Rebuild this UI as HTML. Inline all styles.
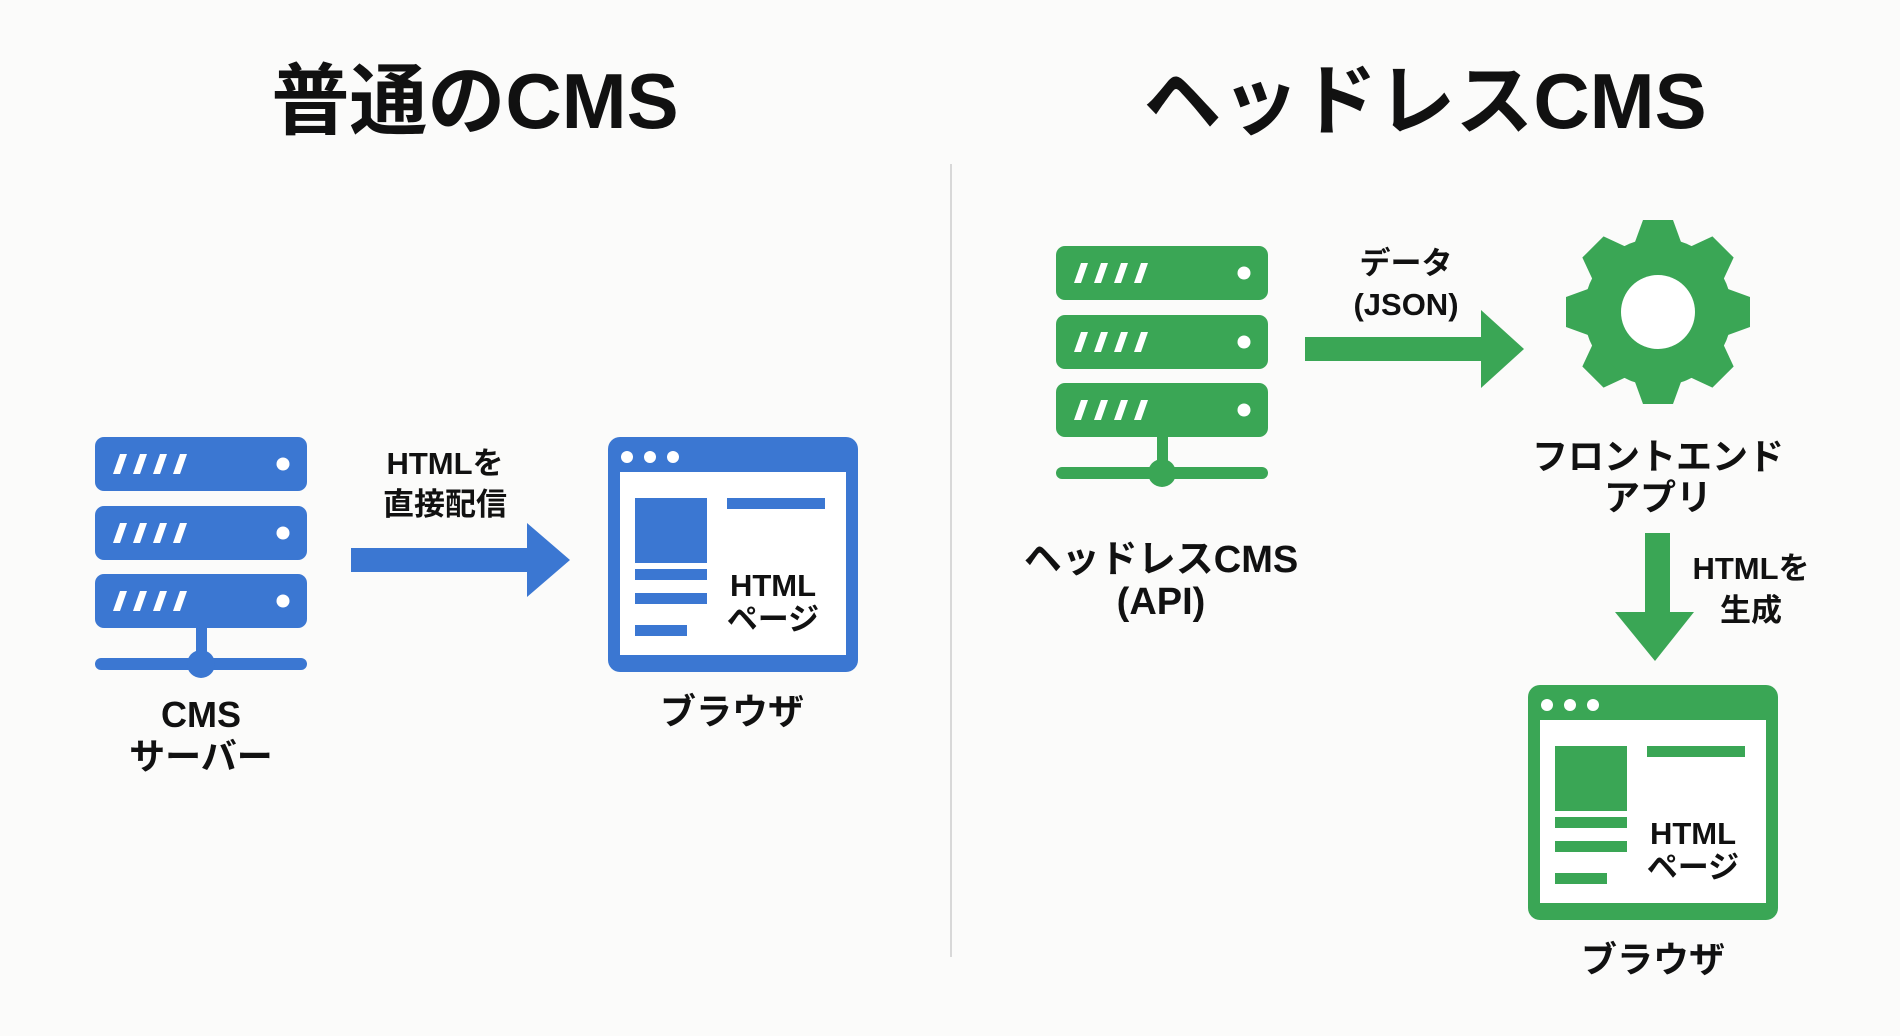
<!DOCTYPE html>
<html><head><meta charset="utf-8"><style>
html,body{margin:0;padding:0;background:#fbfbfa;}
svg{display:block;}
text{font-family:"Liberation Sans","Noto Sans CJK JP",sans-serif;font-weight:bold;fill:#111;text-anchor:middle;}
</style></head><body>
<svg width="1900" height="1036" viewBox="0 0 1900 1036" xmlns="http://www.w3.org/2000/svg">
<defs>
<g id="rack">
  <rect x="0" y="0" width="212" height="54" rx="9"/>
  <g fill="#fff">
    <polygon points="18,37 25,17 32,17 25,37"/>
    <polygon points="38,37 45,17 52,17 45,37"/>
    <polygon points="58,37 65,17 72,17 65,37"/>
    <polygon points="78,37 85,17 92,17 85,37"/>
    <circle cx="188" cy="27" r="6.5"/>
  </g>
</g>
<g id="server">
  <use href="#rack" x="0" y="0"/>
  <use href="#rack" x="0" y="69"/>
  <use href="#rack" x="0" y="137"/>
  <rect x="101" y="190" width="11" height="40"/>
  <rect x="0" y="221" width="212" height="12" rx="6"/>
  <circle cx="106" cy="227" r="14"/>
</g>
<g id="browser">
  <rect x="0" y="0" width="250" height="235" rx="12"/>
  <rect x="12" y="35" width="226" height="183" fill="#fff"/>
  <g fill="#fff"><circle cx="19" cy="20" r="6"/><circle cx="42" cy="20" r="6"/><circle cx="65" cy="20" r="6"/></g>
  <rect x="27" y="61" width="72" height="65"/>
  <rect x="119" y="61" width="98" height="11"/>
  <rect x="27" y="132" width="72" height="11"/>
  <rect x="27" y="156" width="72" height="11"/>
  <rect x="27" y="188" width="52" height="11"/>
</g>
<polygon id="tooth" points="-23,-70 23,-70 15,-92 -15,-92"/>
</defs>

<rect x="950" y="164" width="2" height="793" fill="#d8d8d8"/>

<text x="475" y="128" font-size="78">普通のCMS</text>
<g fill="#3b77d2">
  <use href="#server" x="95" y="437"/>
  <rect x="351" y="548" width="180" height="24"/>
  <polygon points="527,523 570,560 527,597"/>
  <use href="#browser" x="608" y="437"/>
</g>
<text x="773" y="596" font-size="31">HTML</text>
<text x="773" y="630" font-size="31">ページ</text>
<text x="201" y="727" font-size="36">CMS</text>
<text x="201" y="769" font-size="36">サーバー</text>
<text x="445" y="474" font-size="31">HTMLを</text>
<text x="445" y="515" font-size="31">直接配信</text>
<text x="732" y="724" font-size="36">ブラウザ</text>

<text x="1425" y="128" font-size="78">ヘッドレスCMS</text>
<g fill="#3aa655">
  <use href="#server" x="1056" y="246"/>
  <rect x="1305" y="337" width="180" height="24"/>
  <polygon points="1481,310 1524,349 1481,388"/>
  <rect x="1645" y="533" width="25" height="82"/>
  <polygon points="1615,612 1694,612 1655,661"/>
  <use href="#browser" x="1528" y="685"/>
  <g transform="translate(1658,312)">
    <circle r="74"/>
    <use href="#tooth"/>
    <use href="#tooth" transform="rotate(45)"/>
    <use href="#tooth" transform="rotate(90)"/>
    <use href="#tooth" transform="rotate(135)"/>
    <use href="#tooth" transform="rotate(180)"/>
    <use href="#tooth" transform="rotate(225)"/>
    <use href="#tooth" transform="rotate(270)"/>
    <use href="#tooth" transform="rotate(315)"/>
    <circle r="37" fill="#fff"/>
  </g>
</g>
<text x="1693" y="844" font-size="31">HTML</text>
<text x="1693" y="878" font-size="31">ページ</text>
<text x="1406" y="274" font-size="31">データ</text>
<text x="1406" y="315" font-size="31">(JSON)</text>
<text x="1161" y="572" font-size="38">ヘッドレスCMS</text>
<text x="1161" y="614" font-size="38">(API)</text>
<text x="1658" y="469" font-size="36">フロントエンド</text>
<text x="1658" y="510" font-size="36">アプリ</text>
<text x="1751" y="579" font-size="31">HTMLを</text>
<text x="1751" y="621" font-size="31">生成</text>
<text x="1653" y="972" font-size="36">ブラウザ</text>
</svg>
</body></html>
